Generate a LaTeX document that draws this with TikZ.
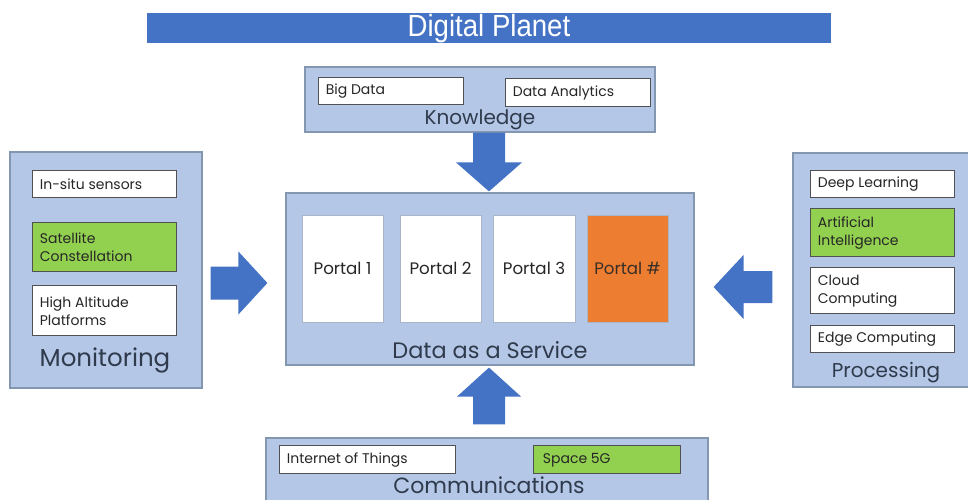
\documentclass[tikz,border=0pt]{standalone}
\usepackage{fontspec}
\setmainfont{Poppins}
\newfontfamily\titlefont{Liberation Sans}
\usetikzlibrary{fit,calc}

\definecolor{barblue}{HTML}{4472C4}
\definecolor{panelblue}{HTML}{B4C7E7}
\definecolor{paneledge}{HTML}{8497B0}
\definecolor{leafgreen}{HTML}{92D050}
\definecolor{portalorange}{HTML}{ED7D31}
\definecolor{inkgray}{HTML}{262626}
\definecolor{labelink}{HTML}{2F3B4C}

\tikzset{
  panel/.style={draw=paneledge, line width=0.9pt, fill=panelblue, inner sep=0pt},
  itembox/.style={draw=inkgray!80, line width=0.6pt, fill=white, inner sep=0pt},
  greenbox/.style={itembox, fill=leafgreen},
  itemtext/.style={anchor=west, inner sep=0pt, align=left, text=inkgray,
    font=\fontsize{10.5}{13.5}\selectfont},
  portalbox/.style={draw=paneledge!70, line width=0.5pt, fill=white, inner sep=0pt},
  portaltext/.style={text=inkgray, font=\fontsize{12.5}{15}\selectfont},
  panellabel/.style={text=labelink, inner sep=0pt},
  bigarrow/.style={fill=barblue, draw=none}
}

\begin{document}
\begin{tikzpicture}[x=0.75pt, y=-0.75pt]
\useasboundingbox (0,0) rectangle (968,500);

% title bar
\node[fill=barblue, inner sep=0pt, fit={(147,13) (831,43)}] (title) {};
\node[text=white, font=\titlefont\fontsize{23}{26}\selectfont, inner sep=0pt]
  (titletext) at (489,29) {\scalebox{0.9}[1]{Digital Planet}};

% Knowledge
\node[panel, fit={(305,67) (655,132)}] (know) {};
\node[itembox, fit={(318,77) (463,104)}] (bigdata) {};
\node[itembox, fit={(505,78) (650,106)}] (analytics) {};
\node[itemtext] (bigdatatext) at ($(bigdata.west)+(8,1)$) {Big Data};
\node[itemtext] (analyticstext) at ($(analytics.west)+(8,1)$) {Data Analytics};
\node[panellabel, font=\fontsize{15}{17}\selectfont] (knowlabel) at (480,120) {Knowledge};

% Data as a Service
\node[panel, fit={(286,193) (694,365)}] (daas) {};
\node[portalbox, fit={(302,215) (383,322)}] (p1) {};
\node[portalbox, fit={(400,215) (481,322)}] (p2) {};
\node[portalbox, fit={(493,215) (575,322)}] (p3) {};
\node[portalbox, fill=portalorange, fit={(587,215) (668,322)}] (p4) {};
\node[portaltext] (p1text) at (p1) {Portal 1};
\node[portaltext] (p2text) at (p2) {Portal 2};
\node[portaltext] (p3text) at (p3) {Portal 3};
\node[portaltext, text=inkgray!90!portalorange] (p4text) at (p4) {Portal \#};
\node[panellabel, font=\fontsize{16.8}{19}\selectfont] (daaslabel) at (490,350) {Data as a Service};

% Monitoring
\node[panel, fit={(10,152) (202,388)}] (mon) {};
\node[itembox, fit={(32,170) (176,197)}] (insitu) {};
\node[greenbox, fit={(32,222) (176,271)}] (sat) {};
\node[itembox, fit={(32,285) (176,335)}] (hap) {};
\node[itemtext] (insitutext) at ($(insitu.west)+(8,1)$) {In-situ sensors};
\node[itemtext] (sattext) at ($(sat.west)+(8,1)$) {Satellite\\Constellation};
\node[itemtext] (haptext) at ($(hap.west)+(8,1)$) {High Altitude\\Platforms};
\node[panellabel, font=\fontsize{18.4}{21}\selectfont] (monlabel) at (105,360) {Monitoring};

% Processing
\node[panel, fit={(793,153) (975,387)}] (proc) {};
\node[itembox, fit={(810,170) (954,197)}] (deep) {};
\node[greenbox, fit={(810,208) (954,256)}] (ai) {};
\node[itembox, fit={(810,267) (954,313)}] (cloud) {};
\node[itembox, fit={(810,325) (954,352)}] (edge) {};
\node[itemtext] (deeptext) at ($(deep.west)+(8,1)$) {Deep Learning};
\node[itemtext] (aitext) at ($(ai.west)+(8,1)$) {Artificial\\Intelligence};
\node[itemtext] (cloudtext) at ($(cloud.west)+(8,1)$) {Cloud\\Computing};
\node[itemtext] (edgetext) at ($(edge.west)+(8,1)$) {Edge Computing};
\node[panellabel, font=\fontsize{15}{17}\selectfont] (proclabel) at (886,373) {Processing};

% Communications
\node[panel, fit={(266,438) (708,520)}] (comm) {};
\node[itembox, fit={(279,445) (455,473)}] (iot) {};
\node[greenbox, fit={(533,445) (680,473)}] (space) {};
\node[itemtext] (iottext) at ($(iot.west)+(8,1)$) {Internet of Things};
\node[itemtext] (spacetext) at ($(space.west)+(10,1)$) {Space 5G};
\node[panellabel, font=\fontsize{16.5}{18}\selectfont] (commlabel) at (489,485) {Communications};

% axes for the block arrows
\coordinate (vaxis) at (489,0);
\coordinate (haxisL) at (0,283);
\coordinate (haxisR) at (0,287);

% Knowledge -> Data as a Service
\coordinate (kS) at (know.south -| vaxis);
\coordinate (kT) at ($(daas.north -| vaxis)+(0,-1)$);
\fill[bigarrow] ($(kS)+(-16,0)$) -- ($(kT)+(-16,-29)$) -- ($(kT)+(-33,-29)$) -- (kT)
  -- ($(kT)+(33,-29)$) -- ($(kT)+(16,-29)$) -- ($(kS)+(16,0)$) -- cycle;

% Communications -> Data as a Service
\coordinate (cS) at ($(comm.north -| vaxis)+(0,-13)$);
\coordinate (cT) at ($(daas.south -| vaxis)+(0,2)$);
\fill[bigarrow] ($(cS)+(-16,0)$) -- ($(cT)+(-16,29)$) -- ($(cT)+(-32,29)$) -- (cT)
  -- ($(cT)+(32,29)$) -- ($(cT)+(16,29)$) -- ($(cS)+(16,0)$) -- cycle;

% Monitoring -> Data as a Service
\coordinate (mS) at ($(mon.east |- haxisL)+(8,0)$);
\coordinate (mT) at ($(daas.west |- haxisL)+(-18,0)$);
\fill[bigarrow] ($(mS)+(0,-16.5)$) -- ($(mT)+(-29,-16.5)$) -- ($(mT)+(-29,-31.5)$) -- (mT)
  -- ($(mT)+(-29,31.5)$) -- ($(mT)+(-29,16.5)$) -- ($(mS)+(0,16.5)$) -- cycle;

% Processing -> Data as a Service
\coordinate (pS) at ($(proc.west |- haxisR)+(-20,0)$);
\coordinate (pT) at ($(daas.east |- haxisR)+(19,0)$);
\fill[bigarrow] ($(pS)+(0,-16)$) -- ($(pT)+(30,-16)$) -- ($(pT)+(30,-32)$) -- (pT)
  -- ($(pT)+(30,32)$) -- ($(pT)+(30,16)$) -- ($(pS)+(0,16)$) -- cycle;
\end{tikzpicture}
\end{document}
